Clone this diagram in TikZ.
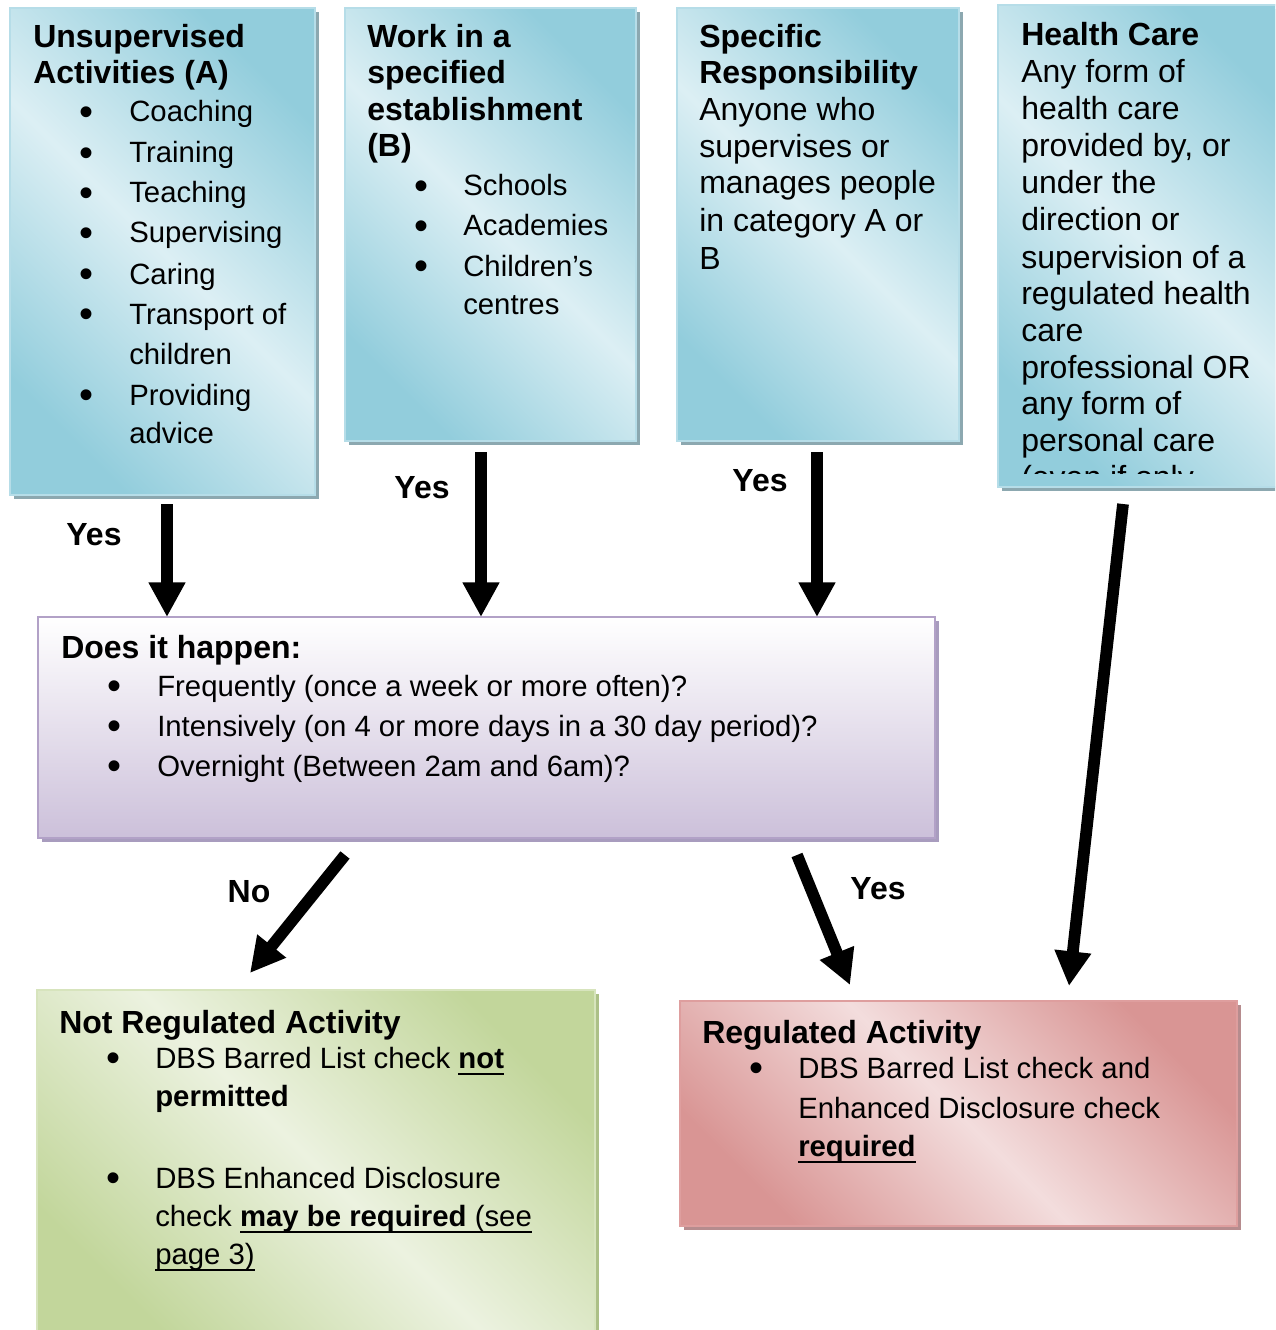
\documentclass[tikz,border=0pt]{standalone}
\usepackage{fontspec}
\setmainfont{Liberation Sans}
\usetikzlibrary{arrows.meta,fit}
\definecolor{bdark}{RGB}{146,205,220}
\definecolor{blight}{RGB}{220,239,244}
\definecolor{bborder}{RGB}{182,221,232}
\definecolor{bshadow}{RGB}{140,168,176}
\definecolor{pbot}{RGB}{204,192,218}
\definecolor{pborder}{RGB}{178,161,199}
\definecolor{pshadow}{RGB}{168,156,190}
\definecolor{gdark}{RGB}{194,214,155}
\definecolor{glight}{RGB}{236,242,224}
\definecolor{gborder}{RGB}{215,228,189}
\definecolor{gshadow}{RGB}{172,192,135}
\definecolor{rdark}{RGB}{217,149,148}
\definecolor{rlight}{RGB}{243,221,221}
\definecolor{rborder}{RGB}{222,158,158}
\definecolor{rshadow}{RGB}{182,140,142}
\newcommand\ulx[1]{\setbox0=\hbox{#1}\rlap{\rule[-5.2pt]{\wd0}{1.8pt}}\box0}
\begin{document}
\begin{tikzpicture}[x=0.75pt,y=-0.75pt,
  hd/.style={anchor=base west, inner sep=0, font=\fontsize{24}{28}\selectfont\bfseries},
  bt/.style={anchor=base west, inner sep=0, font=\fontsize{22}{26}\selectfont},
  bl/.style={anchor=base west, inner sep=0, font=\fontsize{24}{28}\selectfont},
  bul/.style={anchor=center, inner sep=0, font=\fontsize{30}{34}\selectfont},
  lbl/.style={inner sep=0, font=\fontsize{24}{28}\selectfont\bfseries},
  arr/.style={line width=8.8pt, -{Triangle[width=26pt,length=26pt]}},
  bluebox/.style={inner sep=0, draw=bborder, line width=1.2pt, top color=bdark, bottom color=bdark, middle color=blight, shading angle=-45},
  purplebox/.style={inner sep=0, draw=pborder, line width=1.5pt, top color=white, bottom color=pbot},
  greenbox/.style={inner sep=0, draw=gborder, line width=1.2pt, top color=gdark, bottom color=gdark, middle color=glight, shading angle=-45},
  redbox/.style={inner sep=0, draw=rborder, line width=1.5pt, top color=rdark, bottom color=rdark, middle color=rlight, shading angle=-45}
]
\useasboundingbox (0,0) rectangle (1275,1330);
\clip (0,0) rectangle (1275,1330);
\fill[white] (0,0) rectangle (1275,1330);

% shadows
\fill[bshadow] (14,12) rectangle (319,499);
\fill[bshadow] (349,12) rectangle (640,445);
\fill[bshadow] (681,12) rectangle (963,445);
\fill[bshadow] (1002,9) rectangle (1300,491);
\fill[pshadow] (42,621) rectangle (939,842);
\fill[gshadow] (41,994) rectangle (599,1345);
\fill[rshadow] (684,1005) rectangle (1241,1230);

% boxes
\node[bluebox, fit={(10,8) (315,495)}] (A) {};
\node[bluebox, fit={(345,8) (636,441)}] (B) {};
\node[bluebox, fit={(677,8) (959,441)}] (C) {};
\node[bluebox, fit={(998,5) (1296,487)}] (D) {};
\node[purplebox, fit={(38,617) (935,838)}] (M) {};
\node[greenbox, fit={(37,990) (595,1341)}] (N) {};
\node[redbox, fit={(680,1001) (1237,1226)}] (R) {};

% Box A
\node[hd] (a1) at (33,48) {Unsupervised};
\node[hd] (a2) at (33,84) {Activities (A)};
\foreach \y/\t [count=\i] in {122/Coaching,163/Training,203/Teaching,243/Supervising,284/Caring,324/Transport of,405/Providing}{
  \node[bul] (ab\i) at (87,\y-6) {\textbullet};
  \node[bt] (at\i) at (129,\y) {\t};
}
\node[bt] (a3) at (129,364) {children};
\node[bt] (a4) at (129,443) {advice};

% Box B
\node[hd] (b1) at (367,48) {Work in a};
\node[hd] (b2) at (367,84) {specified};
\node[hd] (b3) at (367,121) {establishment};
\node[hd] (b4) at (367,157) {(B)};
\foreach \y/\t [count=\i] in {196/Schools,236/Academies,276/Children’s}{
  \node[bul] (bb\i) at (421,\y-6) {\textbullet};
  \node[bt] (bt\i) at (463,\y) {\t};
}
\node[bt] (b5) at (463,314) {centres};

% Box C
\node[hd] (c1) at (699,48) {Specific};
\node[hd] (c2) at (699,84) {Responsibility};
\foreach \y/\t [count=\i] in {121/Anyone who,158/supervises or,194/manages people,232/in category A or,269/B}{
  \node[bl] (ct\i) at (699,\y) {\t};
}

% Box D
\node[hd] (d1) at (1021,46) {Health Care};
\foreach \y/\t [count=\i] in {83/Any form of,120/health care,157/{provided by, or},194/under the,231/direction or,268/supervision of a,304/regulated health,341/care,378/professional OR,414/any form of,451/personal care}{
  \node[bl] (dt\i) at (1021,\y) {\t};
}
\begin{scope}
\clip (990,0) rectangle (1275,473);
\node[bl] (d2) at (1021,488) {(even if only};
\end{scope}

% Middle box
\node[hd] (m1) at (61,658) {Does it happen:};
\foreach \y/\t [count=\i] in {696/Frequently (once a week or more often)?,736/Intensively (on 4 or more days in a 30 day period)?,776/Overnight (Between 2am and 6am)?}{
  \node[bul] (mb\i) at (115,\y-6) {\textbullet};
  \node[bt] (mt\i) at (157,\y) {\t};
}

% Green box
\node[hd] (n1) at (59,1033) {Not Regulated Activity};
\node[bul] (nb1) at (113,1068-6) {\textbullet};
\node[bt] (nt1) at (155,1068) {DBS Barred List check \ulx{\textbf{not}}};
\node[bt] (nt2) at (155,1106) {\textbf{permitted}};
\node[bul] (nb2) at (113,1188-6) {\textbullet};
\node[bt] (nt3) at (155,1188) {DBS Enhanced Disclosure};
\node[bt] (nt4) at (155,1226) {check \ulx{\textbf{may be required} (see}};
\node[bt] (nt5) at (155,1264) {\ulx{page 3)}};

% Red box
\node[hd] (r1) at (702,1043) {Regulated Activity};
\node[bul] (rb1) at (756,1078-6) {\textbullet};
\node[bt] (rt1) at (798,1078) {DBS Barred List check and};
\node[bt] (rt2) at (798,1118) {Enhanced Disclosure check};
\node[bt] (rt3) at (798,1156) {\ulx{\textbf{required}}};

% arrow end points
\coordinate (s1) at (167,504);  \coordinate (e1) at (167,617);
\coordinate (s2) at (481,452);  \coordinate (e2) at (481,617);
\coordinate (s3) at (817,452);  \coordinate (e3) at (817,617);
\coordinate (s4) at (1123,504); \coordinate (e4) at (1069,986);
\coordinate (s5) at (345,855);  \coordinate (e5) at (250,973);
\coordinate (s6) at (797,855);  \coordinate (e6) at (850,985);
\draw[arr] (s1) -- (e1);
\draw[arr] (s2) -- (e2);
\draw[arr] (s3) -- (e3);
\draw[arr] (s4) -- (e4);
\draw[arr] (s5) -- (e5);
\draw[arr] (s6) -- (e6);

% labels
\node[lbl] (y1) at (94,535) {Yes};
\node[lbl] (y2) at (422,488) {Yes};
\node[lbl] (y3) at (760,481) {Yes};
\node[lbl] (no) at (249,892) {No};
\node[lbl] (y4) at (878,889) {Yes};
\end{tikzpicture}
\end{document}
